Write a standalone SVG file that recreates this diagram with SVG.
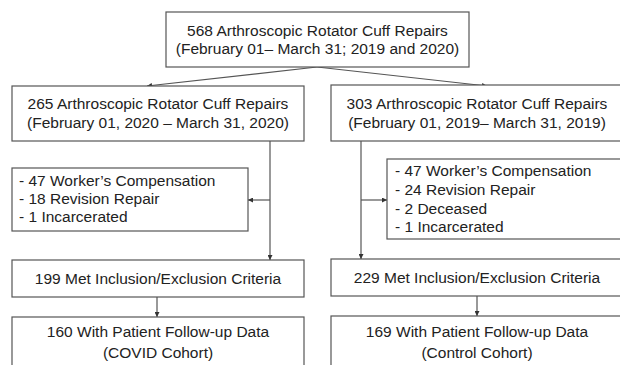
<svg xmlns="http://www.w3.org/2000/svg" width="620" height="365" viewBox="0 0 620 365">
<defs>
<style>
.box{fill:#fff;stroke:#555;stroke-width:1.2}
.t{font-family:"Liberation Sans",Arial,sans-serif;font-size:15.5px;fill:#222}
.c{text-anchor:middle}
.ln{stroke:#555;stroke-width:1.2;fill:none}
</style>
<marker id="ah" viewBox="0 0 8 8" refX="8" refY="4" markerWidth="5" markerHeight="5" orient="auto" markerUnits="userSpaceOnUse">
<path d="M0,0 L8,4 L0,8 z" fill="#333"/>
</marker>
</defs>
<rect width="620" height="365" fill="#fff"/>
<g id="connectors">
<line class="ln" x1="317" y1="67" x2="147" y2="86" marker-end="url(#ah)"/>
<line class="ln" x1="317" y1="67" x2="487" y2="86" marker-end="url(#ah)"/>
<line class="ln" x1="270" y1="141" x2="270" y2="260" marker-end="url(#ah)"/>
<line class="ln" x1="270" y1="200" x2="248" y2="200" marker-end="url(#ah)"/>
<line class="ln" x1="361" y1="141" x2="361" y2="259" marker-end="url(#ah)"/>
<line class="ln" x1="361" y1="200" x2="387" y2="200" marker-end="url(#ah)"/>
<line class="ln" x1="157" y1="297" x2="157" y2="317" marker-end="url(#ah)"/>
<line class="ln" x1="477" y1="296" x2="477" y2="316" marker-end="url(#ah)"/>
</g>
<g id="top">
<rect class="box" x="166" y="12" width="303" height="55"/>
<text class="t c" x="317.5" y="35.5">568 Arthroscopic Rotator Cuff Repairs</text>
<text class="t c" x="317.5" y="54">(February 01– March 31; 2019 and 2020)</text>
</g>
<g id="left2020">
<rect class="box" x="12" y="86" width="292" height="55"/>
<text class="t c" x="158" y="109">265 Arthroscopic Rotator Cuff Repairs</text>
<text class="t c" x="158" y="128">(February 01, 2020 – March 31, 2020)</text>
</g>
<g id="right2019">
<rect class="box" x="331" y="85" width="295" height="56"/>
<text class="t c" x="477" y="109">303 Arthroscopic Rotator Cuff Repairs</text>
<text class="t c" x="477" y="128">(February 01, 2019– March 31, 2019)</text>
</g>
<g id="exclLeft">
<rect class="box" x="12" y="168" width="236" height="63"/>
<text class="t" x="19" y="186">- 47 Worker’s Compensation</text>
<text class="t" x="19" y="204">- 18 Revision Repair</text>
<text class="t" x="19" y="222">- 1 Incarcerated</text>
</g>
<g id="exclRight">
<rect class="box" x="387" y="159" width="240" height="80"/>
<text class="t" x="395" y="176">- 47 Worker’s Compensation</text>
<text class="t" x="395" y="195">- 24 Revision Repair</text>
<text class="t" x="395" y="214">- 2 Deceased</text>
<text class="t" x="395" y="232">- 1 Incarcerated</text>
</g>
<g id="inclLeft">
<rect class="box" x="12" y="260" width="292" height="37"/>
<text class="t c" x="158" y="284">199 Met Inclusion/Exclusion Criteria</text>
</g>
<g id="inclRight">
<rect class="box" x="331" y="259" width="295" height="37"/>
<text class="t c" x="477" y="283">229 Met Inclusion/Exclusion Criteria</text>
</g>
<g id="covid">
<rect class="box" x="12" y="317" width="292" height="60"/>
<text class="t c" x="158" y="337">160 With Patient Follow-up Data</text>
<text class="t c" x="158" y="358">(COVID Cohort)</text>
</g>
<g id="control">
<rect class="box" x="331" y="316" width="295" height="60"/>
<text class="t c" x="477" y="337">169 With Patient Follow-up Data</text>
<text class="t c" x="477" y="358">(Control Cohort)</text>
</g>
</svg>
